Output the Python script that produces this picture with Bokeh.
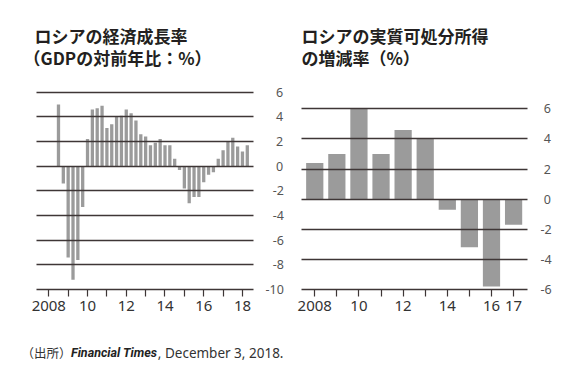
from bokeh.plotting import figure
from bokeh.models import Range1d, FixedTicker, ColumnDataSource
from bokeh.core.properties import value
from bokeh.layouts import row, column
from bokeh.embed import file_html
from bokeh.resources import INLINE

# ---------------- data ----------------
gdp_title = ["ロシアの経済成長率", "（GDPの対前年比：%）"]
income_title = ["ロシアの実質可処分所得", "の増減率（%）"]
source_parts = ["（出所）", "Financial Times", ", December 3, 2018."]

gdp_quarters = ["2008Q3", "2008Q4",
                "2009Q1", "2009Q2", "2009Q3", "2009Q4",
                "2010Q1", "2010Q2", "2010Q3", "2010Q4",
                "2011Q1", "2011Q2", "2011Q3", "2011Q4",
                "2012Q1", "2012Q2", "2012Q3", "2012Q4",
                "2013Q1", "2013Q2", "2013Q3", "2013Q4",
                "2014Q1", "2014Q2", "2014Q3", "2014Q4",
                "2015Q1", "2015Q2", "2015Q3", "2015Q4",
                "2016Q1", "2016Q2", "2016Q3", "2016Q4",
                "2017Q1", "2017Q2", "2017Q3", "2017Q4",
                "2018Q1", "2018Q2"]
gdp_growth = [5.0, -1.4,
              -7.4, -9.2, -7.6, -3.3,
              2.2, 4.6, 4.7, 4.9,
              3.1, 3.4, 4.0, 4.1,
              4.6, 4.3, 3.7, 2.6,
              2.4, 1.7, 1.9, 2.2,
              1.7, 1.7, 0.6, -0.3,
              -1.8, -3.0, -2.5, -2.5,
              -1.3, -0.7, -0.5, 0.6,
              1.3, 2.0, 2.3, 1.6,
              1.2, 1.7]
gdp_xticks = [2008, 2009, 2010, 2011, 2012, 2013, 2014, 2015, 2016, 2017, 2018]
gdp_xlabels = {2008: "2008", 2010: "10", 2012: "12", 2014: "14", 2016: "16", 2018: "18"}
gdp_yticks = [-10, -8, -6, -4, -2, 0, 2, 4, 6]

income_years = [2008, 2009, 2010, 2011, 2012, 2013, 2014, 2015, 2016, 2017]
income_growth = [2.4, 3.0, 6.0, 3.0, 4.6, 4.0, -0.7, -3.2, -5.8, -1.7]
income_xlabels = {2008: "2008", 2010: "10", 2012: "12", 2014: "14", 2016: "16", 2017: "17"}
income_yticks = [-6, -4, -2, 0, 2, 4, 6]

# ---------------- style ----------------
BAR = "#9b9b9b"
GRID = "#3e3636"
TXT = "#231f20"
LBL = "#555555"
FIG = "\u2007"   # figure space (digit width)
PUN = "\u2008"   # punctuation space (~ hyphen width)
W = 581


def pad_labels(ticks, width):
    out = {}
    for t in ticks:
        s = str(t)
        digits = len(s.lstrip("-"))
        neg = s.startswith("-")
        pad = FIG * (width - digits) + ("" if neg else PUN)
        out[t] = pad + s
    return out


def style(p, xticks, xlabels, yticks, ylabel_width, ystand):
    p.outline_line_color = None
    p.background_fill_color = "white"
    p.border_fill_color = "white"
    p.xgrid.visible = False
    p.ygrid.ticker = FixedTicker(ticks=yticks)
    p.ygrid.grid_line_color = GRID
    p.ygrid.grid_line_width = 1.3
    p.ygrid.level = "overlay"

    xa = p.xaxis[0]
    xa.ticker = FixedTicker(ticks=xticks)
    xa.major_label_overrides = {t: xlabels.get(t, "") for t in xticks}
    xa.axis_line_color = GRID
    xa.axis_line_width = 1.3
    xa.major_tick_line_color = GRID
    xa.major_tick_line_width = 1.2
    xa.major_tick_in = 0
    xa.major_tick_out = 7
    xa.minor_tick_line_color = None
    xa.major_label_standoff = 4
    xa.major_label_text_font = "Noto Sans"
    xa.major_label_text_font_size = "15px"
    xa.major_label_text_color = "#333333"

    ya = p.yaxis[0]
    ya.ticker = FixedTicker(ticks=yticks)
    ya.major_label_overrides = pad_labels(yticks, ylabel_width)
    ya.axis_line_color = None
    ya.major_tick_line_color = None
    ya.minor_tick_line_color = None
    ya.major_label_standoff = ystand
    ya.major_label_text_font = "Noto Sans"
    ya.major_label_text_font_size = "12.5px"
    ya.major_label_text_color = LBL


def text_fig(height, top, bottom):
    f = figure(width=W, height=height, x_range=Range1d(0, W), y_range=Range1d(bottom, top),
               output_backend="svg", toolbar_location=None,
               x_axis_location=None, y_axis_location=None, min_border=0)
    f.outline_line_color = None
    f.grid.visible = False
    f.background_fill_color = "white"
    f.border_fill_color = "white"
    return f


# ---------------- header (titles) ----------------
head = text_fig(80, 0, 80)
head.text(x=[34, 23], y=[34.5, 56.5], text=gdp_title,
          text_font=value("Noto Sans CJK JP"), text_font_style="bold", text_font_size="17px",
          text_color=TXT, text_align="left", text_baseline="middle")
head.text(x=[301, 301], y=[34.5, 56.5], text=income_title,
          text_font=value("Noto Sans CJK JP"), text_font_style="bold", text_font_size="17px",
          text_color=TXT, text_align="left", text_baseline="middle")

# ---------------- left: GDP ----------------
gdp_x = [int(q[:4]) + (int(q[-1]) - 1) / 4 for q in gdp_quarters]
src1 = ColumnDataSource(dict(x=gdp_x, v=gdp_growth))

p1 = figure(width=291, height=250, x_range=Range1d(2007.365, 2018.57), y_range=Range1d(-10, 6.14),
            output_backend="svg", toolbar_location=None, y_axis_location="right",
            min_border_left=36, min_border_right=38, min_border_top=10, min_border_bottom=41)
p1.vbar(x="x", top="v", bottom=0, width=0.17, source=src1, fill_color=BAR, line_color=None)
style(p1, gdp_xticks, gdp_xlabels, gdp_yticks, 2, 6)

# ---------------- right: disposable income ----------------
src2 = ColumnDataSource(dict(x=income_years, v=income_growth))
p2 = figure(width=290, height=250, x_range=Range1d(2007.4, 2017.63), y_range=Range1d(-6, 7.22),
            output_backend="svg", toolbar_location=None, y_axis_location="right",
            min_border_left=10, min_border_right=54, min_border_top=10, min_border_bottom=41)
p2.vbar(x="x", top="v", bottom=0, width=0.78, source=src2, fill_color=BAR, line_color=None)
style(p2, income_years, income_xlabels, income_yticks, 1, 7)

# ---------------- footer (source) ----------------
foot = text_fig(50, 330, 380)
foot.text(x=[21], y=[352], text=[source_parts[0]], text_font=value("Noto Sans CJK JP"),
          text_font_size="12.5px", text_color="#333333", text_baseline="middle")
foot.text(x=[70.5], y=[352], text=[source_parts[1]], text_font=value("Roboto"),
          text_font_style="bold italic", text_font_size="12.5px", text_color="#222222",
          text_baseline="middle")
foot.text(x=[157.3], y=[352], text=[source_parts[2]], text_font=value("Noto Sans"),
          text_font_size="13.5px", text_color="#333333", text_baseline="middle")

layout = column(head, row(p1, p2), foot)
open("out.html", "w").write(file_html(layout, INLINE))
